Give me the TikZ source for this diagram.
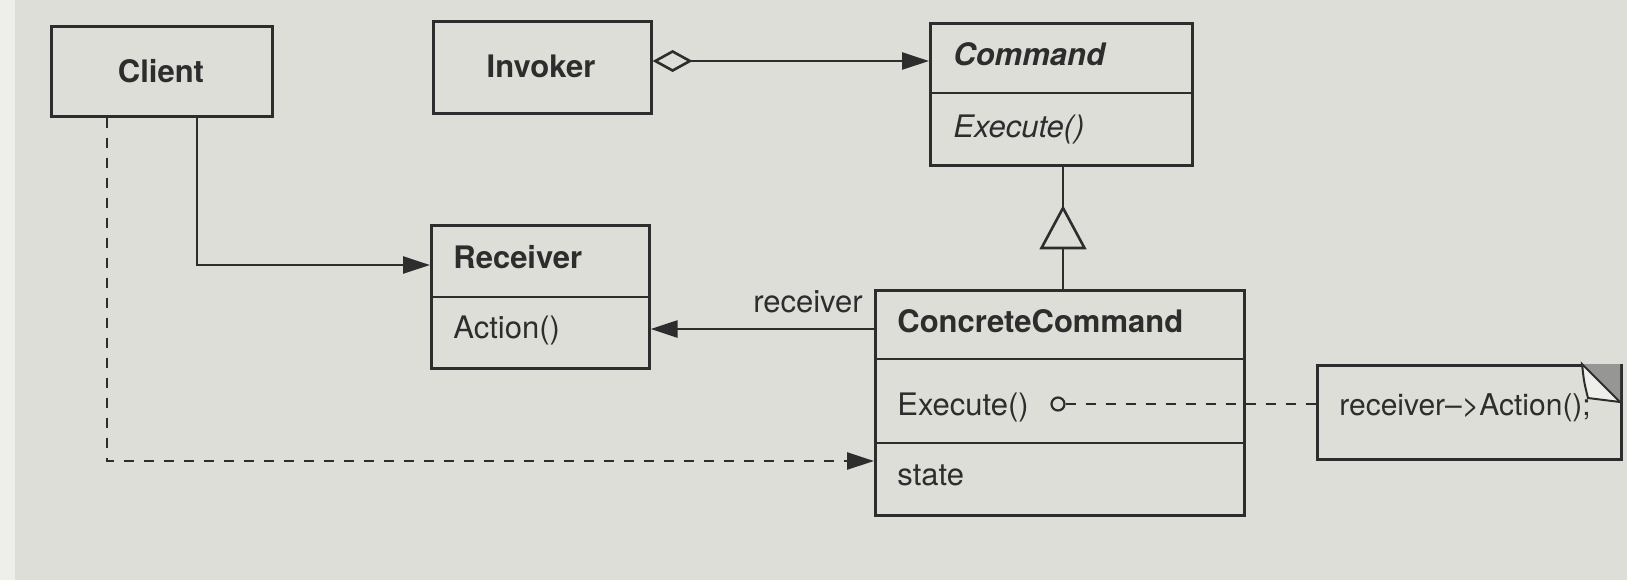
\documentclass[tikz,border=0pt]{standalone}
\usepackage{fontspec}
\setmainfont{TeX Gyre Heros}
\usetikzlibrary{arrows.meta}
\definecolor{paper}{RGB}{222,222,217}
\definecolor{paperedge}{RGB}{238,238,235}
\definecolor{ink}{RGB}{45,45,45}
\definecolor{foldgray}{RGB}{150,150,148}
\newcommand\diagfont{\fontsize{15.5}{18}\selectfont}
\begin{document}
\begin{tikzpicture}[x=0.5pt,y=-0.5pt,
  every node/.style={font=\diagfont, text=ink, inner sep=0pt},
  umlbox/.style={draw=ink, line width=1.3pt, anchor=north west, inner sep=0pt},
  conn/.style={draw=ink, line width=1.3pt},
  assoc/.style={conn, -{Triangle[length=13.5pt,width=8.5pt]}},
  dep/.style={assoc, dash pattern=on 5pt off 5pt},
  aggr/.style={conn, {Diamond[open,length=20pt,width=11pt]}-{Triangle[length=13.5pt,width=8.5pt]}},
  lbl/.style={anchor=base west},
  clsname/.style={font=\diagfont\bfseries},
]
% paper
\fill[paper] (0,0) rectangle (1627,580);
\fill[paperedge] (0,0) rectangle (15,580);
\useasboundingbox (0,0) rectangle (1627,580);

% Client
\node[umlbox, minimum width=110.5pt, minimum height=45pt] (client) at (50,25) {};
\node[clsname, anchor=base] (client-name) at (161,82) {Client};

% Invoker
\node[umlbox, minimum width=109pt, minimum height=46pt] (invoker) at (432,20) {};
\node[clsname, anchor=base] (invoker-name) at (541,77) {Invoker};

% Command (abstract)
\node[umlbox, minimum width=131pt, minimum height=71pt] (command) at (929,22) {};
\draw[conn] (command.west |- 0,93) -- (command.east |- 0,93);
\node[lbl, font=\diagfont\bfseries\itshape] (command-name) at (953,65) {Command};
\node[lbl, font=\diagfont\itshape] (command-op) at (953,137) {Execute()};

% Receiver
\node[umlbox, minimum width=109pt, minimum height=71.5pt] (receiver) at (430,224) {};
\draw[conn] (receiver.west |- 0,297) -- (receiver.east |- 0,297);
\node[lbl, clsname] (receiver-name) at (453,268) {Receiver};
\node[lbl] (receiver-op) at (453,338) {Action()};

% ConcreteCommand
\node[umlbox, minimum width=184.5pt, minimum height=112.5pt] (cc) at (874,289) {};
\draw[conn] (cc.west |- 0,359) -- (cc.east |- 0,359);
\draw[conn] (cc.west |- 0,443) -- (cc.east |- 0,443);
\node[lbl, clsname] (cc-name) at (897,332) {ConcreteCommand};
\node[lbl] (cc-op) at (897,415) {Execute()};
\node[lbl] (cc-state) at (897,485) {state};

% note with folded corner
\node[umlbox, minimum width=152pt, minimum height=47pt] (note) at (1316,364) {};
\fill[foldgray] (1582,364) -- (1620,364) -- (1620,402) -- cycle;
\filldraw[fill=paperedge, draw=ink, line width=1pt]
  (1582,364) .. controls (1584,382) .. (1588,398) -- (1620,402) -- cycle;
\node[lbl, font=\fontsize{15}{18}\selectfont] (note-text) at (1339,415) {receiver–>Action();};

% Invoker aggregates Command
\coordinate (aggy) at (0,61);
\draw[aggr] (invoker.east |- aggy) -- (command.west |- aggy);

% ConcreteCommand is a Command
\coordinate (gtip) at (1063,208);
\coordinate (gbase) at (1063,248);
\draw[conn] (command.south -| gtip) -- (gtip);
\draw[conn, line join=miter] (gtip) -- ++(-21.5,40) -- ++(43,0) -- cycle;
\draw[conn] (gbase) -- (gbase |- cc.north);

% Client knows the Receiver
\coordinate (k1) at (197,265);
\draw[assoc] (client.south -| k1) |- (receiver.west |- k1);

% Client creates the ConcreteCommand
\coordinate (k2) at (107,461);
\draw[dep] (client.south -| k2) |- (cc.west |- k2);

% ConcreteCommand holds its receiver
\coordinate (k3) at (0,329);
\draw[assoc] (cc.west |- k3) -- (receiver.east |- k3);
\node[anchor=base east] (role) at (863,312) {receiver};

% Execute() implementation note
\node[circle, draw=ink, line width=1.1pt, fill=paper, minimum size=6.5pt] (dot) at (1058,404) {};
\draw[conn, dash pattern=on 5pt off 5pt] (dot) -- (note.west |- dot);
\end{tikzpicture}
\end{document}
